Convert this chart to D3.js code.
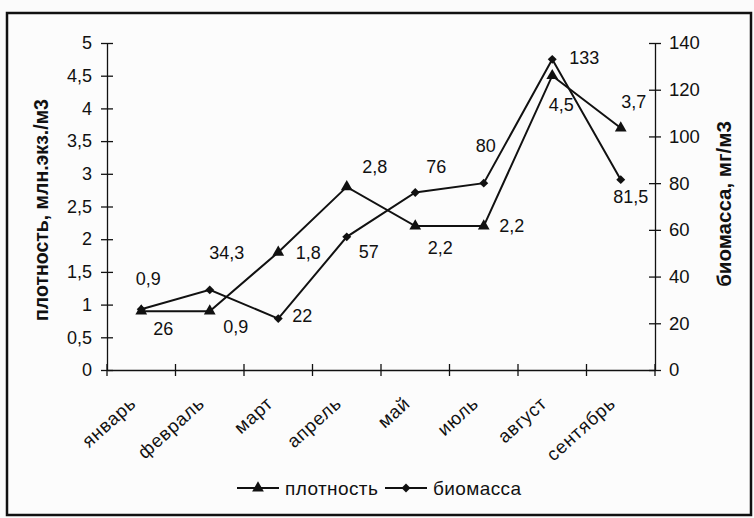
<!DOCTYPE html>
<html><head><meta charset="utf-8">
<script src="https://cdn.jsdelivr.net/npm/d3@7"></script>
<style>
html,body{margin:0;padding:0;background:#fbfbfb;}
svg{display:block;}
text{font-family:"Liberation Sans",Arial,sans-serif;fill:#111;}
</style></head><body>
<svg id="chart" width="754" height="518"></svg>
<script>
const months = ["январь","февраль","март","апрель","май","июль","август","сентябрь"];
const density = [0.9, 0.9, 1.8, 2.8, 2.2, 2.2, 4.5, 3.7];
const biomass = [26, 34.3, 22, 57, 76, 80, 133, 81.5];
const densityTicks = [0,0.5,1,1.5,2,2.5,3,3.5,4,4.5,5];
const biomassTicks = [0,20,40,60,80,100,120,140];
const densityName = "плотность";
const biomassName = "биомасса";
const leftTitle = "плотность, млн.экз./м3";
const rightTitle = "биомасса, мг/м3";

// label placement offsets (dx, dy) relative to the point
const densityLabelOffsets = [[7,-32],[26,16],[30,0],[28,-20],[25,22],[28,0],[9,29],[13,-26]];
const biomassLabelOffsets = [[22,19],[17,-37],[24,-3],[22,15],[21,-26],[2,-37],[32,-2],[10,17]];

const fmt = v => String(v).replace(".", ",");
const svg = d3.select("#chart");
const L = 107, R = 655, T = 43, B = 370;

svg.append("rect").attr("x",7).attr("y",13).attr("width",744).attr("height",502)
  .attr("fill","#fcfcfc").attr("stroke","#111").attr("stroke-width",2.5);

const x = d3.scaleBand().domain(months).range([L,R]);
const yL = d3.scaleLinear().domain([0,5]).range([B,T]);
const yR = d3.scaleLinear().domain([0,140]).range([B,T]);

// axes
const axL = svg.append("g").attr("transform",`translate(${L},0)`)
  .call(d3.axisLeft(yL).tickValues(densityTicks).tickFormat(fmt).tickSize(6).tickSizeOuter(0));
axL.selectAll(".tick line").attr("x1",6).attr("x2",-6);
axL.selectAll(".tick text").attr("x",-15);
const axR = svg.append("g").attr("transform",`translate(${R},0)`)
  .call(d3.axisRight(yR).tickValues(biomassTicks).tickFormat(d=>d).tickSize(6).tickSizeOuter(0));
axR.selectAll(".tick line").attr("x1",-6).attr("x2",6);
axR.selectAll(".tick text").attr("x",14);
const axB = svg.append("g").attr("transform",`translate(0,${B})`)
  .call(d3.axisBottom(x).tickSize(0).tickSizeOuter(0));
// category boundary ticks
const bounds = months.map(m => x(m)).concat([R]);
axB.selectAll(".bt").data(bounds).enter().append("line")
  .attr("x1",d=>d).attr("x2",d=>d).attr("y1",-6).attr("y2",6).attr("stroke","#111");
axB.selectAll(".tick text")
  .attr("text-anchor","end")
  .attr("transform","translate(-4,35) rotate(-42)")
  .attr("x",0).attr("y",0).attr("dy","0")
  .style("font-size","18.5px").style("letter-spacing","0.8px");
[axL,axR,axB].forEach(a=>{
  a.select(".domain").attr("stroke","#111").attr("stroke-width",1.3);
  a.selectAll("line").attr("stroke","#111").attr("stroke-width",1.3);
  a.selectAll("text").style("font-family","Liberation Sans, Arial, sans-serif").attr("fill","#111");
});
axL.selectAll(".tick text").style("font-size","18px");
axR.selectAll(".tick text").style("font-size","18.5px");

// axis titles
svg.append("text").attr("transform",`translate(41,210) rotate(-90)`)
  .attr("text-anchor","middle").attr("dy","0.35em").style("font-size","19.5px").style("font-weight","bold").text(leftTitle);
svg.append("text").attr("transform",`translate(724,204) rotate(-90)`)
  .attr("text-anchor","middle").attr("dy","0.35em").style("font-size","20.5px").style("font-weight","bold").text(rightTitle);

const cx = m => x(m) + x.bandwidth()/2;
const tri = d3.symbol().type(d3.symbolTriangle).size(60);
const dia = d3.symbol().type(d3.symbolSquare).size(40);

function series(vals, scale, sym, rot, offsets){
  const pts = months.map((m,i)=>[cx(m), scale(vals[i])]);
  svg.append("path").attr("d", d3.line()(pts)).attr("fill","none").attr("stroke","#111").attr("stroke-width",2);
  svg.selectAll(null).data(pts).enter().append("path")
    .attr("d", sym).attr("transform", d=>`translate(${d[0]},${d[1]}) rotate(${rot})`).attr("fill","#111");
  svg.selectAll(null).data(pts).enter().append("text")
    .attr("x",(d,i)=>d[0]+offsets[i][0]).attr("y",(d,i)=>d[1]+offsets[i][1])
    .attr("text-anchor","middle").attr("dy","0.35em").style("font-size","18px")
    .text((d,i)=>fmt(vals[i]));
}
series(density, yL, tri, 0, densityLabelOffsets);
series(biomass, yR, dia, 45, biomassLabelOffsets);

// legend
const lg = svg.append("g").attr("transform","translate(0,488)");
[[densityName, tri, 0, 237],[biomassName, dia, 45, 385]].forEach(([name,sym,rot,x0])=>{
  lg.append("line").attr("x1",x0).attr("x2",x0+42).attr("y1",0).attr("y2",0).attr("stroke","#111").attr("stroke-width",2);
  lg.append("path").attr("d",sym).attr("transform",`translate(${x0+21},0) rotate(${rot})`).attr("fill","#111");
  lg.append("text").attr("x",x0+48).attr("y",0).attr("dy","0.35em").style("font-size","19px").style("letter-spacing","0.4px").text(name);
});
</script></body></html>
